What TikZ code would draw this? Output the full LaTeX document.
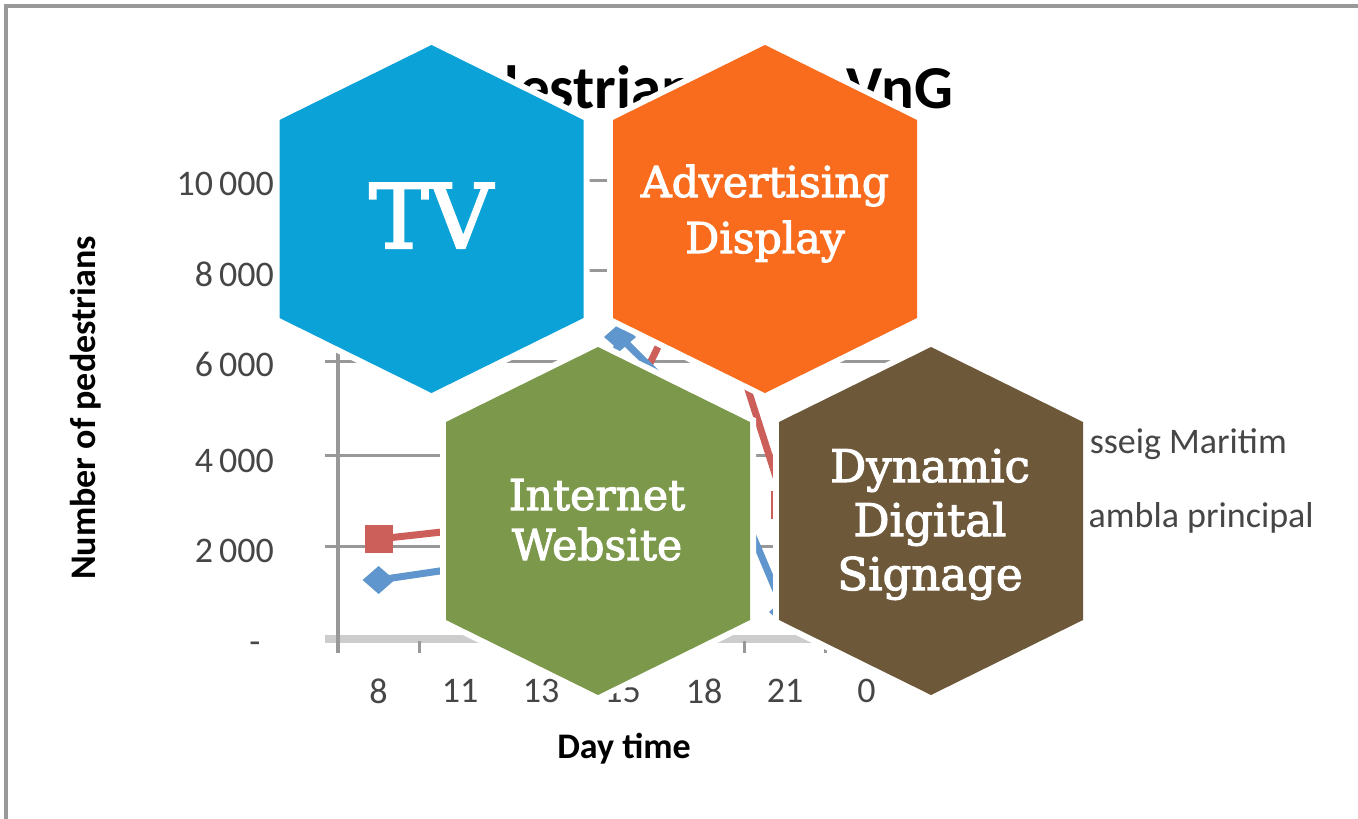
\documentclass[tikz,border=0pt]{standalone}
\usepackage{fontspec}
\newfontfamily\hexfont[FakeBold=2.5]{DejaVu Serif}
\newfontfamily\chartfont{Carlito}

\definecolor{tvblue}{RGB}{11,162,216}
\definecolor{adorange}{RGB}{249,108,30}
\definecolor{webgreen}{RGB}{124,152,74}
\definecolor{signbrown}{RGB}{109,88,58}
\definecolor{framegray}{RGB}{153,153,153}
\definecolor{gridgray}{RGB}{152,152,152}
\definecolor{axisband}{RGB}{205,205,205}
\definecolor{serred}{RGB}{205,95,90}
\definecolor{serblue}{RGB}{95,150,205}
\definecolor{labelgray}{RGB}{70,70,70}

% one hexagonal cell: white halo first, coloured face on top
\newcommand\hexhalo[2]{%
  \begin{scope}[shift={(#1,#2)}]
    \filldraw[white, line width=12pt, line join=miter]
      (0,-174) -- (152,-99) -- (152,99) -- (0,174) -- (-152,99) -- (-152,-99) -- cycle;
  \end{scope}}
\newcommand\hexface[3]{%
  \begin{scope}[shift={(#1,#2)}]
    \fill[#3]
      (0,-174) -- (152,-99) -- (152,99) -- (0,174) -- (-152,99) -- (-152,-99) -- cycle;
  \end{scope}}

\tikzset{
  hexline/.style={font=\hexfont\fontsize{42.5}{50}\selectfont, text=white, anchor=base, inner sep=0pt},
  hexbig/.style={font=\hexfont\fontsize{89}{95}\selectfont, text=white, anchor=base, inner sep=0pt},
  hexwide/.style={font=\hexfont\fontsize{45}{52}\selectfont, text=white, anchor=base, inner sep=0pt},
  ticklabel/.style={font=\chartfont\fontsize{36}{40}\selectfont, text=labelgray, inner sep=0pt},
  axistitle/.style={font=\chartfont\bfseries\fontsize{36}{40}\selectfont, text=black, inner sep=0pt},
  charttitle/.style={font=\chartfont\bfseries\fontsize{61}{66}\selectfont, text=black, inner sep=0pt, anchor=base},
  gridline/.style={gridgray, line width=3pt},
  tickmark/.style={gridgray, line width=3pt},
  series/.style={line width=7pt, line join=round, line cap=round},
}

\begin{document}
\begin{tikzpicture}[x=1pt, y=-1pt]
  \useasboundingbox (0,0) rectangle (1358,819);
  \fill[white] (0,0) rectangle (1358,819);

  % frame of the chart area
  \draw[framegray, line width=3.5pt] (5.75,819) -- (5.75,5.75) -- (1358,5.75);

  % chart title
  \node[charttitle, anchor=base west] (title1) at (424,108) {Pedestrians};
  \node[charttitle, anchor=base east] (title2) at (953,108) {in VnG};

  % gridlines and axes
  \foreach \gy in {180,270,361,455,546}
    \draw[gridline] (325,\gy) -- (907,\gy);
  \draw[axisband, line width=8pt] (325,639) -- (907,639);
  \draw[gridgray, line width=4pt] (338,180) -- (338,653);
  \foreach \gx in {419.3,500.6,581.9,663.2,744.5,825.8,907.1}
    \draw[tickmark] (\gx,641) -- (\gx,653);

  % value labels
  \node[ticklabel, anchor=east] (y10) at (274,184) {10\,000};
  \node[ticklabel, anchor=east] (y8)  at (274,274) {8\,000};
  \node[ticklabel, anchor=east] (y6)  at (274,364) {6\,000};
  \node[ticklabel, anchor=east] (y4)  at (274,461) {4\,000};
  \node[ticklabel, anchor=east] (y2)  at (274,551) {2\,000};
  \node[ticklabel] (y0) at (255,648) {-};

  % category labels
  \node[ticklabel] (x8)  at (378.6,691) {8};
  \node[ticklabel] (x11) at (460,691) {11};
  \node[ticklabel] (x13) at (541,691) {13};
  \node[ticklabel] (x15) at (622.5,691) {15};
  \node[ticklabel] (x18) at (704,691) {18};
  \node[ticklabel] (x21) at (785,691) {21};
  \node[ticklabel] (x0)  at (866.5,691) {0};

  % axis titles
  \node[axistitle, anchor=base] (xtitle) at (624,758) {Day time};
  \node[axistitle, rotate=90] (ytitle) at (86,408) {Number of pedestrians};

  % legend entries
  \node[ticklabel, anchor=base east] (leg1) at (1287,453) {Passeig Maritim};
  \node[ticklabel, anchor=base east] (leg2) at (1314,527) {Rambla principal};

  % data series
  \draw[series, serred] (378.6,539) -- (460,530) -- (541,480) -- (622.5,420)
      -- (704,252) -- (785,505) -- (866.5,620);
  \draw[series, serblue] (378.6,580) -- (460,568) -- (541,600) -- (620,337)
      -- (704,420) -- (785,612) -- (866.5,636);
  \foreach \px/\py in {378.6/539,460/530,541/480,622.5/420,704/252,785/505,866.5/620}
    \fill[serred] (\px-14,\py-14) rectangle (\px+14,\py+14);
  \foreach \px/\py in {378.6/580,460/568,541/600,620/337,704/420,785/612,866.5/636}
    \fill[serblue] (\px-16,\py) -- (\px,\py-14) -- (\px+16,\py) -- (\px,\py+14) -- cycle;

  % hexagonal cells
  \hexhalo{431.5}{219}
  \hexhalo{765}{219}
  \hexhalo{598}{521}
  \hexhalo{931}{521}
  \hexface{431.5}{219}{tvblue}
  \hexface{765}{219}{adorange}
  \hexface{598}{521}{webgreen}
  \hexface{931}{521}{signbrown}

  % cell captions
  \node[hexbig] (tv) at (431,248) {TV};
  \node[hexline] (adv1) at (765,197) {Advertising};
  \node[hexline] (adv2) at (765,253) {Display};
  \node[hexline] (web1) at (597,510) {Internet};
  \node[hexline] (web2) at (597,560) {Website};
  \node[hexwide] (dds1) at (930,482) {Dynamic};
  \node[hexwide] (dds2) at (930,536) {Digital};
  \node[hexwide] (dds3) at (930,590) {Signage};
\end{tikzpicture}
\end{document}
